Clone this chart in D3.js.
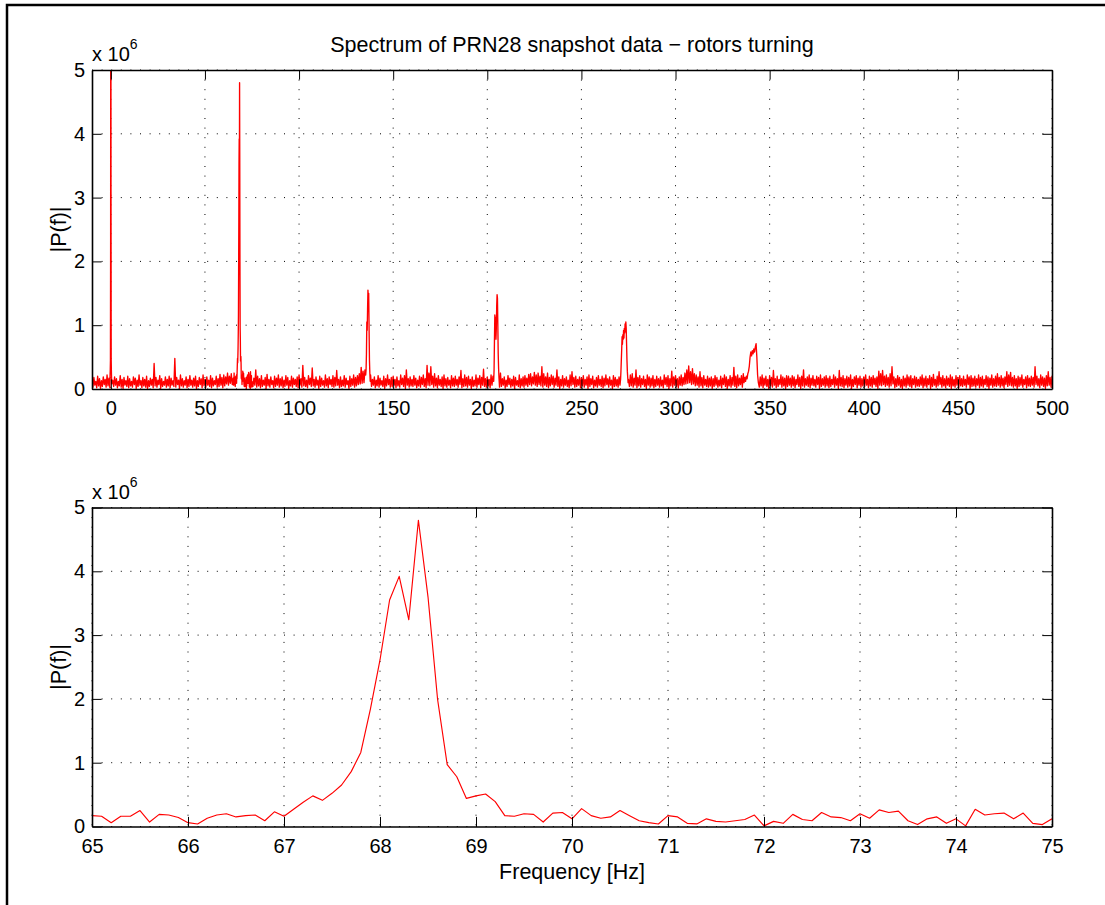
<!DOCTYPE html>
<html><head><meta charset="utf-8">
<script src="https://cdn.jsdelivr.net/npm/d3@7/dist/d3.min.js"></script>
<style>
body{margin:0;background:#fff;}
text{font-family:"Liberation Sans",Arial,Helvetica,sans-serif;fill:#000;}
</style>
</head><body>
<svg id="c" width="1105" height="905"></svg>
<script>
// ---------- text ----------
const titleText = "Spectrum of PRN28 snapshot data \u2212 rotors turning";
const xLabelText = "Frequency [Hz]";
const yLabelText = "|P(f)|";

// ---------- ticks / domains ----------
const topXTicks = [0,50,100,150,200,250,300,350,400,450,500];
const botXTicks = [65,66,67,68,69,70,71,72,73,74,75];
const yTicks = [0,1,2,3,4,5];
const topXDomain = [-10,500];
const botXDomain = [65,75];
const yDomain = [0,5];

// ---------- full spectrum background noise, units of 0.01e6 ----------
// upper excursions at integer Hz starting at -10 Hz
const hiStart = -10;
const hiA = [14,18,12,20,16,13,19,15,22,17,
  null,14,19,16,12,21,15,18,13,20,
  16,12,19,17,14,22,13,18,15,20,
  13,17,15,40,18,14,21,16,12,19,
  15,20,17,13,48,18,14,22,16,13,
  19,15,21,14,17,20,13,18,16,22,
  15,19,14,21,17,13,20,16,23,18,
  22,19,25,20,24,null,null,null,null,null,
  null,null,null,null,null,null,17,30,20,16,
  21,14,18,23,15,19,13,20,17,22,
  16,19,14,21,18,13,20,17,15,19];
const hiB = [22,16,37,18,14,21,17,33,15,19,
  14,20,17,13,22,16,19,15,21,18,
  29,15,19,14,21,17,13,20,16,22,
  18,21,24,34,28,30,null,null,22,15,
  19,14,21,17,13,20,16,22,15,18,
  20,15,19,13,22,17,21,30,16,19,
  15,21,17,14,20,18,22,16,37,25,
  35,20,24,17,21,15,19,22,16,18,
  14,21,17,20,15,19,29,16,22,18,
  20,15,19,14,22,17,21,18,31,16];
const hiC = [19,15,22,20,null,null,null,25,16,19,
  14,21,17,15,20,18,13,22,16,19,
  21,17,23,24,19,26,22,25,20,35,
  24,19,25,18,22,20,17,30,19,15,
  21,16,19,14,22,27,18,20,15,19,
  17,21,15,19,22,16,20,14,18,21,
  15,20,17,22,16,19,14,21,18,15,
  19,null,null,null,null,null,22,24,17,30,
  18,21,16,20,15,22,19,17,21,15,
  20,16,19,14,22,18,21,16,28,19];
const hiD = [21,16,19,22,18,25,30,36,27,32,
  24,22,19,27,18,21,15,20,17,19,
  16,21,18,14,20,17,22,19,15,21,
  18,34,20,22,17,21,24,null,null,null,
  null,null,null,null,null,19,22,17,20,15,
  21,18,29,16,20,15,22,19,17,21,
  20,17,21,19,15,22,18,20,30,16,
  19,22,17,21,15,20,18,22,16,19,
  21,17,20,15,22,19,16,29,18,21,
  16,20,18,22,15,19,21,17,20,16];
const hiE = [19,22,15,20,18,21,17,19,28,24,
  29,20,22,18,24,35,19,16,21,18,
  15,20,17,22,19,21,16,20,18,15,
  19,22,17,20,16,21,18,23,15,20,
  27,18,21,16,20,17,22,19,15,21,
  18,21,16,20,15,22,19,21,17,20,
  16,22,18,20,15,21,19,17,22,16,
  20,24,18,21,17,19,27,22,26,18,
  21,16,20,18,22,15,19,21,17,20,
  18,35,20,16,22,19,17,21,27,18,
  20];
// lower excursions at half-integer Hz starting at -9.5 Hz
const loStart = -9.5;
const loA = [3,6,2,5,1,4,7,3,5,2,
  8,4,6,2,5,3,1,6,4,2,
  5,3,7,1,4,6,2,5,3,0,
  4,6,2,5,3,7,1,4,6,3,
  5,2,6,4,3,7,1,5,3,6,
  2,4,6,3,5,1,4,7,2,5,
  3,6,4,2,5,7,3,4,6,2,
  5,8,6,9,7,null,null,null,null,null,
  null,null,null,null,null,4,6,3,5,2,
  4,6,1,5,3,7,2,4,6,3,
  5,2,4,6,1,5,3,7,4,2];
const loB = [6,3,5,4,2,7,4,5,3,6,
  1,4,6,3,5,2,7,4,3,5,
  6,2,4,5,3,7,1,4,6,3,
  5,7,8,9,10,null,null,null,4,6,
  2,5,3,6,4,1,5,7,3,4,
  6,2,5,3,7,4,1,6,3,5,
  4,6,2,5,3,7,4,2,6,5,
  7,3,5,2,6,4,1,5,3,6,
  2,5,4,6,3,7,2,4,5,3,
  6,1,4,5,3,7,2,6,4,3];
const loC = [5,2,6,null,null,null,3,4,6,2,
  4,7,3,5,1,6,4,2,5,3,
  6,4,7,5,8,6,4,7,5,3,
  6,4,2,5,7,3,6,4,1,5,
  3,6,4,2,5,7,3,4,6,2,
  5,3,6,1,4,7,2,5,3,6,
  4,2,5,7,3,6,1,4,5,3,
  6,null,null,null,null,4,5,3,6,2,
  5,3,7,4,1,6,3,5,2,4,
  6,3,5,2,7,4,1,5,3,6];
const loD = [4,2,6,5,7,8,9,10,7,8,
  5,6,3,5,2,6,4,3,5,1,
  4,6,3,5,2,7,4,1,5,3,
  6,4,2,5,7,3,null,null,null,null,
  null,null,null,null,3,5,2,6,4,1,
  5,3,6,2,4,7,3,5,1,4,
  6,3,5,2,7,4,1,5,3,6,
  4,2,6,5,3,7,1,4,6,3,
  5,2,4,7,3,6,1,5,4,2,
  6,3,5,1,4,7,2,6,3,5];
const loE = [4,6,2,5,3,7,4,1,6,5,
  7,4,6,3,5,8,2,4,6,3,
  1,5,3,6,4,2,7,3,5,4,
  6,2,5,3,7,1,4,6,3,5,
  7,3,5,2,6,4,1,5,3,6,
  2,5,4,6,3,7,1,4,5,3,
  6,2,5,3,7,4,1,6,3,5,
  4,6,3,5,2,7,4,6,5,3,
  5,1,4,6,3,7,2,5,4,6,
  3,7,5,2,6,4,1,5,6,3,
  4];

// ---------- harmonic peaks (units of 1e6) ----------
const peak0Start = -0.4, peak0Step = 0.1;
const peak0 = [0.22,0.30,0.45,2.4,9.5,3.1,0.45,0.28,0.15];
const peak137Start = 135.4, peak137Step = 0.2;
const peak137 = [0.22,0.30,0.55,1.05,0.92,1.25,1.55,1.40,1.50,0.95,0.45,0.25,0.12];
const peak205Start = 203.4, peak205Step = 0.2;
const peak205 = [0.12,0.30,0.75,1.16,1.05,1.12,0.78,0.95,1.30,1.48,1.42,1.00,0.55,0.33,0.18];
const peak273Start = 270.8, peak273Step = 0.2;
const peak273 = [0.15,0.28,0.45,0.62,0.82,0.70,0.85,0.78,0.92,0.80,0.95,0.88,1.02,0.90,1.05,0.95,0.70,0.45,0.28,0.18,0.10,0.15];
const peak341Start = 336.4, peak341Step = 0.4;
const peak341 = [0.10,0.18,0.12,0.20,0.16,0.24,0.28,0.36,0.50,0.58,0.52,0.60,0.55,0.63,0.58,0.66,0.71,0.50,0.22,0.10];

// ---------- zoomed spectrum 65..75 Hz, 0.1 Hz steps (units of 1e6) ----------
const zoomStart = 65, zoomStep = 0.1;
const zoomMag = [0.17,0.16,0.06,0.16,0.16,0.25,0.07,0.19,0.18,0.14,
  0.06,0.04,0.13,0.18,0.20,0.15,0.17,0.18,0.09,0.23,
  0.16,0.27,0.38,0.48,0.41,0.52,0.65,0.86,1.16,1.84,
  2.61,3.55,3.92,3.24,4.80,3.60,1.99,0.97,0.78,0.44,
  0.48,0.51,0.39,0.17,0.16,0.20,0.19,0.07,0.21,0.22,
  0.12,0.28,0.17,0.13,0.15,0.25,0.17,0.09,0.06,0.04,
  0.17,0.15,0.05,0.04,0.12,0.08,0.07,0.09,0.11,0.18,
  0.01,0.08,0.05,0.19,0.11,0.09,0.22,0.15,0.14,0.09,
  0.20,0.13,0.26,0.22,0.24,0.09,0.03,0.12,0.15,0.05,
  0.12,0.01,0.27,0.18,0.20,0.21,0.12,0.21,0.05,0.03,
  0.12];

// ---------- build series ----------
function seg(start, step, vals, unit){
  return vals.map((v,i)=> v==null ? null : {f:+(start+i*step).toFixed(3), v:v*unit}).filter(d=>d);
}
const zoomData = seg(zoomStart, zoomStep, zoomMag, 1);
const fineSegs = [
  seg(peak0Start, peak0Step, peak0, 1),
  zoomData,
  seg(peak137Start, peak137Step, peak137, 1),
  seg(peak205Start, peak205Step, peak205, 1),
  seg(peak273Start, peak273Step, peak273, 1),
  seg(peak341Start, peak341Step, peak341, 1)
];
const ranges = fineSegs.map(s=>[s[0].f, s[s.length-1].f]);
const outside = p => !ranges.some(r=>p.f>=r[0]&&p.f<=r[1]);
const hiPts = seg(hiStart, 1, [].concat(hiA,hiB,hiC,hiD,hiE), 0.01).filter(outside);
const loPts = seg(loStart, 1, [].concat(loA,loB,loC,loD,loE), 0.01).filter(outside);
const topData = hiPts.concat(loPts, ...fineSegs).sort((a,b)=>a.f-b.f);

// ---------- drawing ----------
const svg = d3.select("#c");
const FS = 20, FL = 21.5;
svg.append("rect").attr("x",7).attr("y",5).attr("width",1120).attr("height",920)
  .attr("fill","none").attr("stroke","#000").attr("stroke-width",2.5);

const L = 92, R = 1052, H = 319;
const TICK = 9.6;

function panel(top, data, xDomain, xTicks, id, lw){
  const T = top, B = top + H;
  const x = d3.scaleLinear().domain(xDomain).range([L,R]);
  const y = d3.scaleLinear().domain(yDomain).range([B,T]);
  const g = svg.append("g");
  g.append("g").selectAll("line").data(xTicks).join("line")
    .attr("x1",d=>x(d)).attr("x2",d=>x(d)).attr("y1",T).attr("y2",B)
    .attr("stroke","#000").attr("stroke-width",1).attr("stroke-dasharray","1,8.6");
  g.append("g").selectAll("line").data(yTicks).join("line")
    .attr("x1",L).attr("x2",R).attr("y1",d=>y(d)).attr("y2",d=>y(d))
    .attr("stroke","#000").attr("stroke-width",1).attr("stroke-dasharray","1,8.6");
  svg.append("clipPath").attr("id",id).append("rect")
    .attr("x",L).attr("y",T).attr("width",R-L).attr("height",H);
  g.append("path").datum(data).attr("clip-path",`url(#${id})`)
    .attr("d", d3.line().x(d=>x(d.f)).y(d=>y(d.v)))
    .attr("fill","none").attr("stroke","#ff0000").attr("stroke-width",lw)
    .attr("stroke-linejoin","round");
  const fmt = d3.format("d");
  const ax = [
    g.append("g").attr("transform",`translate(0,${B})`).call(d3.axisBottom(x).tickValues(xTicks).tickFormat(fmt).tickSizeInner(-TICK).tickSizeOuter(0).tickPadding(12)),
    g.append("g").attr("transform",`translate(0,${T})`).call(d3.axisTop(x).tickValues(xTicks).tickFormat("").tickSizeInner(-TICK).tickSizeOuter(0)),
    g.append("g").attr("transform",`translate(${L},0)`).call(d3.axisLeft(y).tickValues(yTicks).tickFormat(fmt).tickSizeInner(-TICK).tickSizeOuter(0).tickPadding(7)),
    g.append("g").attr("transform",`translate(${R},0)`).call(d3.axisRight(y).tickValues(yTicks).tickFormat("").tickSizeInner(-TICK).tickSizeOuter(0))
  ];
  ax.forEach(a=>{
    a.select(".domain").attr("stroke","#000").attr("stroke-width",1.6);
    a.selectAll(".tick line").attr("stroke","#000").attr("stroke-width",1);
    a.selectAll("text").attr("font-size",FS).attr("font-family","'Liberation Sans',Arial,sans-serif").attr("fill","#000");
  });
  const ex = g.append("text").attr("x",L).attr("y",T-9).attr("font-size",FS);
  ex.append("tspan").text("x 10");
  ex.append("tspan").attr("dy",-12).attr("font-size",14).text("6");
  g.append("text").attr("transform",`translate(66,${(T+B)/2}) rotate(-90)`)
    .attr("text-anchor","middle").attr("font-size",FL).text(yLabelText);
  return {x,y,T,B};
}

const p1 = panel(70, topData, topXDomain, topXTicks, "clipTop", 1.35);
const p2 = panel(507.5, zoomData, botXDomain, botXTicks, "clipBot", 1.15);

svg.append("text").attr("x",(L+R)/2).attr("y",52).attr("text-anchor","middle")
  .attr("font-size",FL).text(titleText);
svg.append("text").attr("x",(L+R)/2).attr("y",p2.B+52).attr("text-anchor","middle")
  .attr("font-size",FL).text(xLabelText);
</script>
</body></html>
